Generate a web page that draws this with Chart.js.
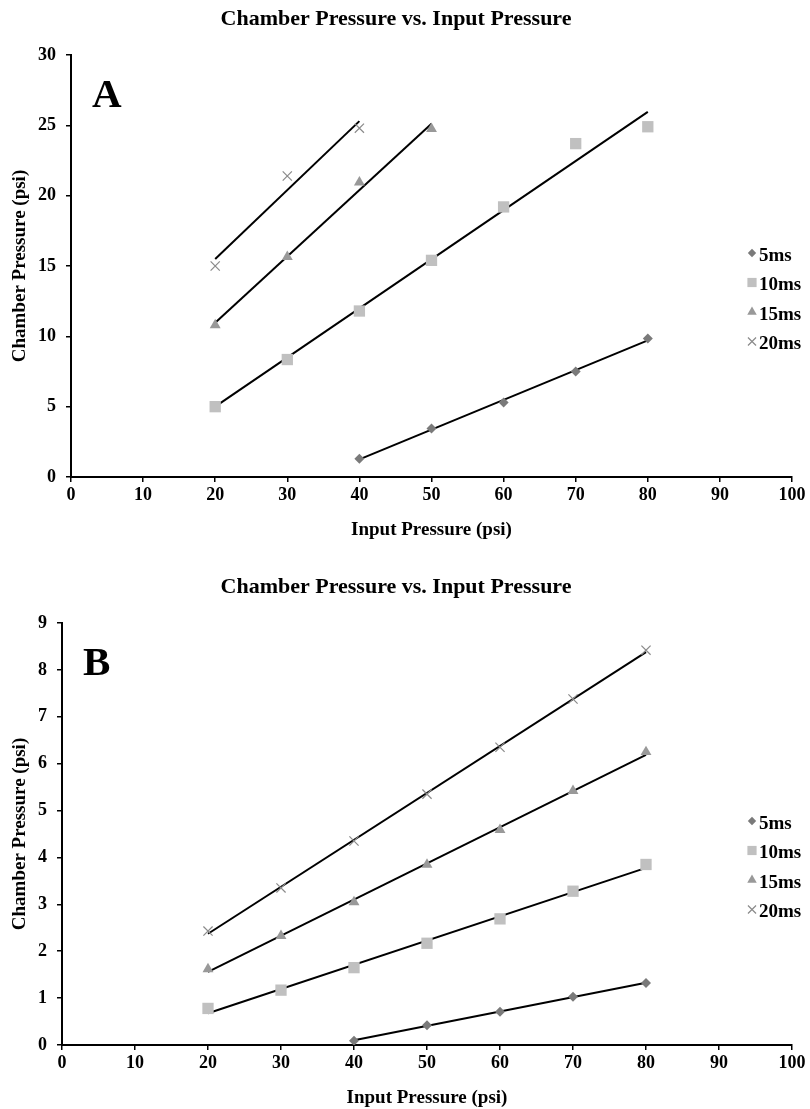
<!DOCTYPE html>
<html><head><meta charset="utf-8">
<script src="https://cdn.jsdelivr.net/npm/chart.js@4.4.1/dist/chart.umd.min.js"></script>
<style>
html,body{margin:0;padding:0;background:#fff;}
#wrapA{position:absolute;left:0;top:0;width:810px;height:568px;}
#wrapB{position:absolute;left:0;top:568px;width:810px;height:541px;}
</style></head><body>
<div id="wrapA"><canvas id="chartA" width="810" height="568"></canvas></div>
<div id="wrapB"><canvas id="chartB" width="810" height="541"></canvas></div>
<script>
// ---- data ----
const seriesNames = ['5ms', '10ms', '15ms', '20ms'];
const chartTitle = 'Chamber Pressure vs. Input Pressure';
const xAxisTitle = 'Input Pressure (psi)';
const yAxisTitle = 'Chamber Pressure (psi)';
const xTickValues = [0, 10, 20, 30, 40, 50, 60, 70, 80, 90, 100];
const yTicksA = [0, 5, 10, 15, 20, 25, 30];
const yTicksB = [0, 1, 2, 3, 4, 5, 6, 7, 8, 9];

// Panel A
const inputA_5ms  = [40, 50, 60, 70, 80];
const chamberA_5ms  = [1.3, 3.45, 5.3, 7.5, 9.85];
const inputA_10ms = [20, 30, 40, 50, 60, 70, 80];
const chamberA_10ms = [5.0, 8.35, 11.8, 15.4, 19.2, 23.7, 24.9];
const inputA_15ms = [20, 30, 40, 50];
const chamberA_15ms = [10.8, 15.65, 20.95, 24.75];
const inputA_20ms = [20, 30, 40];
const chamberA_20ms = [15.0, 21.4, 24.8];

// Panel B
const inputB_5ms  = [40, 50, 60, 70, 80];
const chamberB_5ms  = [0.09, 0.42, 0.71, 1.03, 1.32];
const inputB_10ms = [20, 30, 40, 50, 60, 70, 80];
const chamberB_10ms = [0.78, 1.17, 1.65, 2.17, 2.69, 3.28, 3.85];
const inputB_15ms = [20, 30, 40, 50, 60, 70, 80];
const chamberB_15ms = [1.62, 2.33, 3.05, 3.85, 4.59, 5.42, 6.25];
const inputB_20ms = [20, 30, 40, 50, 60, 70, 80];
const chamberB_20ms = [2.43, 3.35, 4.35, 5.35, 6.35, 7.38, 8.42];

// ---- styles ----
const FONT = '"Liberation Serif", "Times New Roman", serif';
const markerStyles = [
  {pointStyle: 'rectRot', radius: 5, color: '#7a7a7a', borderWidth: 0},
  {pointStyle: 'rect', radius: 8, color: '#c0c0c0', borderWidth: 0},
  {pointStyle: 'triangle', radius: 6.3, color: '#999999', borderWidth: 0},
  {pointStyle: 'crossRot', radius: 6.5, color: '#8a8a8a', borderWidth: 1.2}
];

function toPoints(xs, ys) { return xs.map((x, i) => ({x: x, y: ys[i]})); }
function trend(xs, ys) {
  const n = xs.length;
  const mx = xs.reduce((a, b) => a + b, 0) / n;
  const my = ys.reduce((a, b) => a + b, 0) / n;
  let sxy = 0, sxx = 0;
  for (let i = 0; i < n; i++) { sxy += (xs[i] - mx) * (ys[i] - my); sxx += (xs[i] - mx) * (xs[i] - mx); }
  const m = sxy / sxx, b = my - m * mx;
  const x0 = Math.min(...xs), x1 = Math.max(...xs);
  return [{x: x0, y: m * x0 + b}, {x: x1, y: m * x1 + b}];
}

function buildDatasets(series) {
  const ds = [];
  series.forEach((s, i) => {
    ds.push({
      type: 'line', label: seriesNames[i] + ' trend', data: trend(s[0], s[1]),
      borderColor: '#000', borderWidth: 2, pointRadius: 0, showLine: true, fill: false, order: 2
    });
  });
  series.forEach((s, i) => {
    const st = markerStyles[i];
    ds.push({
      type: 'scatter', label: seriesNames[i], data: toPoints(s[0], s[1]),
      pointStyle: st.pointStyle, pointRadius: st.radius, pointHoverRadius: st.radius,
      backgroundColor: st.color, borderColor: st.color, pointBorderWidth: st.borderWidth, borderWidth: st.borderWidth,
      showLine: false, order: 1
    });
  });
  return ds;
}

const customLegend = {
  id: 'customLegend',
  afterDraw(chart, args, opts) {
    const ctx = chart.ctx;
    ctx.save();
    ctx.font = 'bold 19px ' + FONT;
    ctx.textBaseline = 'middle';
    ctx.textAlign = 'left';
    seriesNames.forEach((name, i) => {
      const st = markerStyles[i];
      const y = opts.top + i * opts.spacing;
      ctx.fillStyle = st.color; ctx.strokeStyle = st.color; ctx.lineWidth = st.borderWidth || 1;
      Chart.helpers.drawPoint(ctx, {pointStyle: st.pointStyle, radius: st.pointStyle === 'rect' ? 6.5 : st.radius - 0.8, rotation: 0, borderWidth: st.borderWidth}, opts.markerX, y - 2);
      ctx.fillStyle = '#000';
      ctx.fillText(name, opts.textX, y + 1);
    });
    ctx.restore();
  }
};
const panelLetter = {
  id: 'panelLetter',
  afterDraw(chart, args, opts) {
    const ctx = chart.ctx;
    ctx.save();
    ctx.font = 'bold 41px ' + FONT;
    ctx.fillStyle = '#000';
    ctx.textBaseline = 'alphabetic';
    ctx.fillText(opts.text, opts.x, opts.y);
    ctx.restore();
  }
};

function makeChart(id, series, yTicks, canvasH, letter, letterX, axisLeft) {
  const yMax = yTicks[yTicks.length - 1];
  const tickFont = {family: FONT, size: 18, weight: 'bold'};
  const titleFont = {family: FONT, size: 19, weight: 'bold'};
  return new Chart(document.getElementById(id), {
    data: {datasets: buildDatasets(series)},
    options: {
      responsive: false, animation: false, devicePixelRatio: 1,
      layout: {padding: {left: 0, right: 18, top: 0, bottom: 0}},
      plugins: {
        legend: {display: false},
        tooltip: {enabled: false},
        title: {display: true, text: chartTitle, color: '#000',
          font: {family: FONT, size: 22, weight: 'bold'}, padding: {top: 6, bottom: 22.6}},
        customLegend: {top: 255, spacing: 29.5, markerX: 752, textX: 759},
        panelLetter: {text: letter, x: letterX, y: 107}
      },
      scales: {
        x: {
          type: 'linear', position: 'bottom', min: 0, max: 100,
          afterBuildTicks: s => { s.ticks = xTickValues.map(v => ({value: v})); },
          ticks: {font: tickFont, color: '#000', padding: 3, maxRotation: 0, autoSkip: false},
          grid: {drawOnChartArea: false, drawTicks: true, tickLength: 5, color: '#000', lineWidth: 1.5},
          border: {color: '#000', width: 2},
          title: {display: true, text: xAxisTitle, color: '#000', font: titleFont, padding: {top: 0, bottom: canvasH - 477 - 53 - 11.4}},
          afterFit: s => { s.height = canvasH - 477; }
        },
        y: {
          type: 'linear', position: 'left', min: 0, max: yMax,
          afterBuildTicks: s => { s.ticks = yTicks.map(v => ({value: v})); },
          ticks: {font: tickFont, color: '#000', padding: 10},
          grid: {drawOnChartArea: false, drawTicks: true, tickLength: 5, color: '#000', lineWidth: 1.5},
          border: {color: '#000', width: 2},
          title: {display: true, text: yAxisTitle, color: '#000', font: titleFont, padding: {top: 9, bottom: 0}},
          afterFit: s => { s.width = axisLeft; }
        }
      }
    },
    plugins: [customLegend, panelLetter]
  });
}

makeChart('chartA', [[inputA_5ms, chamberA_5ms], [inputA_10ms, chamberA_10ms], [inputA_15ms, chamberA_15ms], [inputA_20ms, chamberA_20ms]], yTicksA, 568, 'A', 92, 71);
makeChart('chartB', [[inputB_5ms, chamberB_5ms], [inputB_10ms, chamberB_10ms], [inputB_15ms, chamberB_15ms], [inputB_20ms, chamberB_20ms]], yTicksB, 541, 'B', 83, 62);
</script>
</body></html>
